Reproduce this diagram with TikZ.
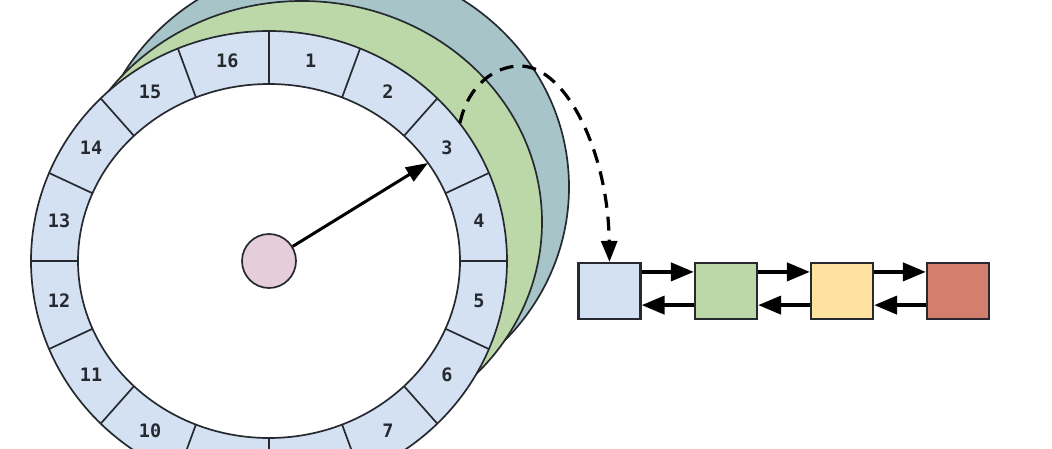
\documentclass[tikz,border=0pt]{standalone}
\usepackage{fontspec}
\newfontfamily\slotfont{DejaVu Sans Mono}
\usetikzlibrary{arrows.meta}
\definecolor{slotblue}{HTML}{D3E1F2}
\definecolor{diskgreen}{HTML}{BCD8A8}
\definecolor{diskteal}{HTML}{A7C5C9}
\definecolor{hubpink}{HTML}{E5CDDA}
\definecolor{boxyellow}{HTML}{FDE2A0}
\definecolor{boxred}{HTML}{D47F6E}
\definecolor{ink}{HTML}{262A30}
\tikzset{
  disk/.style={draw=ink, line width=1.7pt},
  slotlabel/.style={text=ink, font=\slotfont\bfseries\fontsize{18.5}{20}\selectfont, inner sep=0pt},
  hub/.style={circle, draw=ink, line width=1.7pt, fill=hubpink, minimum size=54pt, inner sep=0pt},
  ptr/.style={draw=black, line width=3pt, -{Triangle[length=22pt,width=16pt]}},
  dashlink/.style={draw=black, line width=3.2pt, dash pattern=on 14pt off 9pt, -{Triangle[length=21pt,width=16pt]}},
  listbox/.style={draw=ink, line width=2.2pt, minimum width=62pt, minimum height=56pt, inner sep=0pt},
  link/.style={draw=black, line width=4pt, -{Triangle[length=23pt,width=18pt]}}
}
\begin{document}
\begin{tikzpicture}[x=1pt,y=-1pt]
\useasboundingbox (0,0) rectangle (1052,448);
\clip (0,0) rectangle (1052,448);
\fill[white] (0,0) rectangle (1052,448);
% back wheels
\draw[disk, fill=diskteal] (330,187) ellipse [x radius=239pt, y radius=225pt];
\draw[disk, fill=diskgreen] (302,222) ellipse [x radius=240pt, y radius=221pt];
% front wheel
\draw[disk, fill=slotblue] (269,261) ellipse [x radius=238pt, y radius=230pt];
\draw[disk, fill=white] (269,261) ellipse [x radius=191pt, y radius=177pt];
\foreach \k in {0,...,15} {
  \pgfmathsetmacro\a{90-22.5*\k}
  \draw[disk] ({269+191*cos(\a)},{261-177*sin(\a)}) -- ({269+238*cos(\a)},{261-230*sin(\a)});
}
\foreach \n in {1,2,3,4,5,6,7,10,11,12,13,14,15,16} {
  \pgfmathsetmacro\a{78.75-22.5*(\n-1)}
  \node[slotlabel] (s\n) at ({269+214*cos(\a)},{261-204*sin(\a)}) {\n};
}
% hub and pointer
\node[hub] (hub) at (269,261) {};
\coordinate (tip3) at (428,163);
\draw[ptr] (hub) -- (tip3);
% list
\node[listbox, fill=slotblue] (b1) at (609.5,291) {};
\node[listbox, fill=diskgreen] (b2) at (726,291) {};
\node[listbox, fill=boxyellow] (b3) at (842,291) {};
\node[listbox, fill=boxred] (b4) at (958,291) {};
\foreach \i/\j in {b1/b2,b2/b3,b3/b4} {
  \draw[link] ([yshift=-10pt]\i.north east) -- ([yshift=-10pt]\j.north west);
  \draw[link] ([yshift=15pt]\j.south west) -- ([yshift=15pt]\i.south east);
}
% dashed link from slot 3
\coordinate (dstart) at (460,123);
\draw[dashlink] (dstart) .. controls (468,85) and (495,66) .. (520,66) .. controls (565,66) and (608,150) .. (b1.north);
\end{tikzpicture}
\end{document}
